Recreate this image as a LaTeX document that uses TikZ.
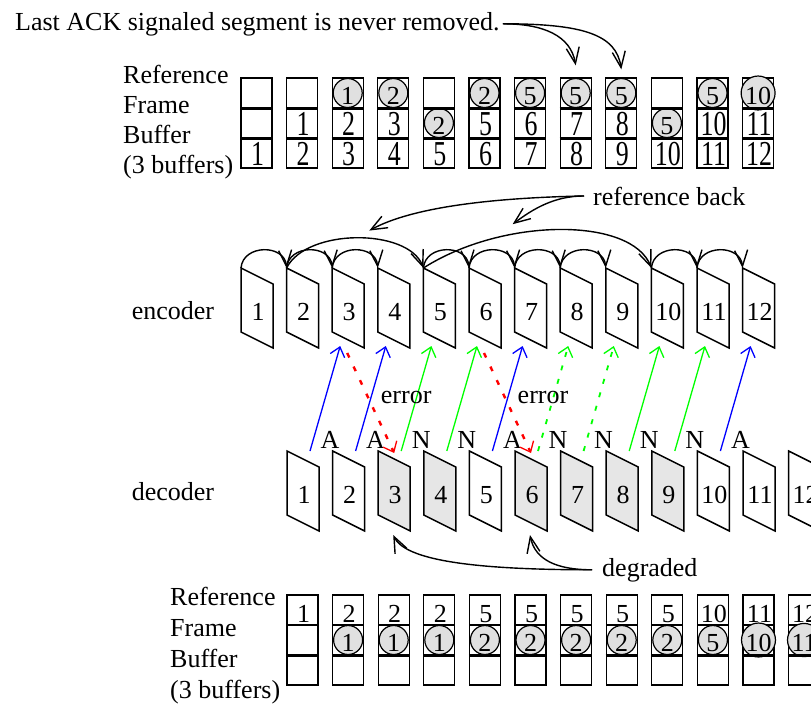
\documentclass[tikz,border=0pt]{standalone}
\usepackage{fontspec}
\setmainfont{Liberation Serif}
\newfontfamily\bigdig{Liberation Serif}[FakeStretch=0.74]
\usepackage{tikz}
\usetikzlibrary{arrows.meta,calc}
\definecolor{cack}{RGB}{0,0,255}
\definecolor{cnak}{RGB}{0,255,0}
\definecolor{cerr}{RGB}{255,0,0}
\definecolor{cshade}{HTML}{E6E6E6}
\definecolor{ccirc}{HTML}{E0E0E0}
\tikzset{
  lbl/.style={font=\fontsize{26}{30}\selectfont, inner sep=0pt},
  cell/.style={draw, line width=1.3pt, minimum width=31pt, minimum height=30pt, inner sep=0pt},
  divider/.style={line width=3pt},
  bnum/.style={font=\bigdig\fontsize{35}{35}\selectfont, inner sep=0pt, text height=25pt, text depth=0pt},
  snum/.style={font=\fontsize{26}{26}\selectfont, inner sep=0pt, text height=25pt, text depth=0pt},
  circ/.style={circle, draw, line width=1.2pt, fill=ccirc, minimum size=29pt, inner sep=0pt,
               font=\fontsize{26}{26}\selectfont, text height=22pt, text depth=0pt},
  frm/.style={draw, line width=1.5pt},
  refarr/.style={line width=1.4pt, -{Straight Barb[length=16pt,width=13pt]}},
  fbarr/.style={line width=1.3pt, -{Straight Barb[length=9pt,width=15pt,line width=1.3pt]}},
  ackarr/.style={fbarr, draw=cack},
  nakarr/.style={fbarr, draw=cnak},
  nakdarr/.style={fbarr, draw=cnak, line width=1.8pt, dash pattern=on 5pt off 9pt},
  errarr/.style={fbarr, draw=cerr, line width=2.4pt, dash pattern=on 5pt off 10pt},
}
\begin{document}
\begin{tikzpicture}[x=1pt,y=-1pt]
  \useasboundingbox (0,0) rectangle (811,705);
  \clip (0,0) rectangle (811,705);

  % reference frame buffer at the encoder
  \node[lbl, align=left, anchor=north west] (rfbtop) at (123,65)
    {Reference\\Frame\\Buffer\\(3 buffers)};
  \foreach \c in {1,...,12}{
    \node[cell] (ta\c) at ({241+(\c-1)*45.6+15.5},93) {};
    \node[cell] (tb\c) at ({241+(\c-1)*45.6+15.5},123) {};
    \node[cell] (tc\c) at ({241+(\c-1)*45.6+15.5},153) {};
    \node[bnum] (tcn\c) at ([xshift=1pt]tc\c.center) {\c};
  }
  \foreach \c/\n in {2/1,3/2,4/3,6/5,7/6,8/7,9/8,11/10,12/11}
    \node[bnum] (tbn\c) at ([xshift=1pt]tb\c.center) {\n};
  \foreach \c/\n in {3/1,4/2,6/2,7/5,8/5,9/5,11/5,12/10}
    \node[circ] (tac\c) at (ta\c) {\n};
  \foreach \c/\n in {5/2,10/5}
    \node[circ] (tbc\c) at (tb\c) {\n};
  \foreach \c in {1,...,12}{
    \draw[divider] (ta\c.south west) -- (ta\c.south east);
    \draw[divider] (tb\c.south west) -- (tb\c.south east);
  }

  \node[lbl, anchor=base west, inner xsep=3pt] (lastack) at (12,30)
    {Last ACK signaled segment is never removed.};
  \draw[refarr] (lastack.east) .. controls +(40,0) and +(-5,-30) .. ([yshift=12pt]ta8.north);
  \draw[refarr] (lastack.east) .. controls +(80,0) and +(-5,-35) .. ([yshift=8pt]ta9.north);

  % encoder
  \node[lbl, anchor=base] (enc) at (173,319) {encoder};
  \foreach \i in {1,...,12}{
    \coordinate (e\i) at ({241+(\i-1)*45.6},268);
    \draw[frm] (e\i) -- ++(0,64) -- ++(32,16) -- ++(0,-64) -- cycle;
    \node[lbl] (en\i) at ($(e\i)+(17,44)$) {\i};
  }
  \foreach \i/\j in {1/2,2/3,3/4,5/6,6/7,7/8,8/9,10/11,11/12}
    \draw[refarr] (e\i) .. controls +(2,-24) and +(-2,-24) .. (e\j);
  \draw[refarr] (e2) .. controls +(20,-40) and +(-15,-40) .. coordinate[pos=0.57] (rb1) (e5);
  \draw[refarr] (e5) .. controls +(80,-51) and +(-20,-51) .. coordinate[pos=0.33] (rb2) (e10);

  \node[lbl, anchor=base west, inner xsep=9pt] (refback) at (584,205) {reference back};
  \draw[refarr] (refback.west) .. controls +(-30,0) and +(20,-15) .. ([yshift=10pt]rb2);
  \draw[refarr] (refback.west) .. controls +(-100,2) and +(40,-22) .. ([yshift=8pt]rb1);

  % decoder
  \node[lbl, anchor=base] (dec) at (173,500) {decoder};
  \foreach \i/\f in {1/white,2/white,3/cshade,4/cshade,5/white,6/cshade,
                     7/cshade,8/cshade,9/cshade,10/white,11/white,12/white}{
    \coordinate (d\i) at ({287+(\i-1)*45.6},451);
    \draw[frm, fill=\f] (d\i) -- ++(0,64) -- ++(32,16) -- ++(0,-64) -- cycle;
    \node[lbl] (dn\i) at ($(d\i)+(17,44)$) {\i};
  }

  % feedback
  \foreach \j/\s/\l [evaluate=\j as \k using int(\j+2)] in
      {1/ackarr/A,2/ackarr/A,3/nakarr/N,4/nakarr/N,5/ackarr/A,
       6/nakdarr/N,7/nakdarr/N,8/nakarr/N,9/nakarr/N,10/ackarr/A}{
    \draw[\s] ($(d\j)+(23,0)$) -- ($(e\k)+(8,78)$);
    \node[lbl, anchor=base] (fb\j) at ($(d\j)+(43,-3)$) {\l};
  }
  \foreach \i in {3,6}{
    \draw[errarr] ($(e\i)+(15,85)$) -- ($(d\i)+(16,2)$);
    \node[lbl, anchor=base] (err\i) at ($(e\i)+(74,135)$) {error};
  }

  \node[lbl, anchor=base west, inner xsep=10pt] (degr) at (592,576) {degraded};
  \draw[refarr] (degr.west) .. controls +(-120,0) and +(12,25) .. ($(d3)+(15,84)$);
  \draw[refarr] (degr.west) .. controls +(-35,0) and +(5,25) .. ($(d6)+(15,84)$);

  % reference frame buffer at the decoder
  \node[lbl, align=left, anchor=north west, font=\fontsize{26}{31}\selectfont] (rfbbot)
    at (170,587) {Reference\\Frame\\Buffer\\(3 buffers)};
  \foreach \c in {1,...,12}{
    \node[cell] (ba\c) at ({287+(\c-1)*45.6+15.5},610) {};
    \node[cell] (bb\c) at ({287+(\c-1)*45.6+15.5},640) {};
    \node[cell] (bc\c) at ({287+(\c-1)*45.6+15.5},670) {};
  }
  \foreach \c/\n in {1/1,2/2,3/2,4/2,5/5,6/5,7/5,8/5,9/5,10/10,11/11,12/12}
    \node[snum] (ban\c) at ([xshift=1pt]ba\c.center) {\n};
  \foreach \c/\n in {2/1,3/1,4/1,5/2,6/2,7/2,8/2,9/2,10/5,11/10,12/11}
    \node[circ] (bbc\c) at (bb\c) {\n};
  \foreach \c in {1,...,12}
    \draw[divider] (bb\c.south west) -- (bb\c.south east);
\end{tikzpicture}
\end{document}
